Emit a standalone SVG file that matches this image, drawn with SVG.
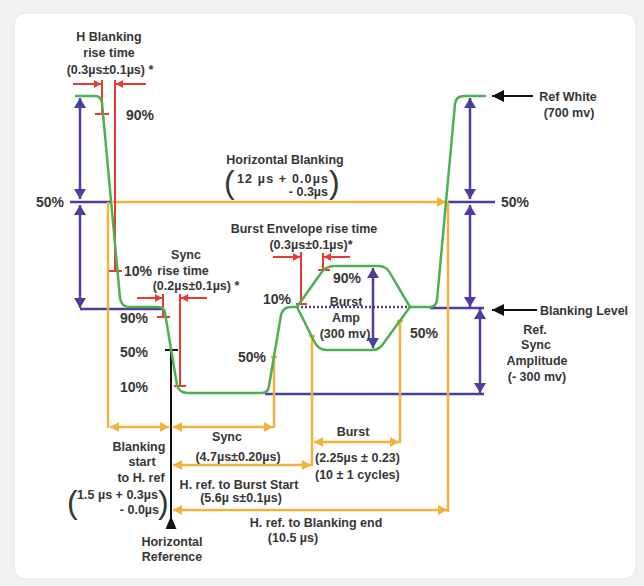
<svg xmlns="http://www.w3.org/2000/svg" width="644" height="586" viewBox="0 0 644 586">
<defs>
<style>
.t{font-family:"Liberation Sans",Arial,sans-serif;font-weight:bold;font-size:12.5px;fill:#363636;text-anchor:middle}
.p{font-size:14px}
.s{text-anchor:start}
.e{text-anchor:end}
.par{font-weight:normal;font-size:32px}
.g{fill:none;stroke:#4caf50;stroke-width:2.5;stroke-linejoin:round;stroke-linecap:round}
.pu{stroke:#4a3f9e;stroke-width:2.5;fill:none}
.o{stroke:#f2b33d;stroke-width:2.5;fill:none}
.r{stroke:#e63b2e;stroke-width:2;fill:none}
.k{stroke:#111;stroke-width:2;fill:none}
</style>
<marker id="mp" viewBox="0 0 10 12" refX="10" refY="6" markerWidth="10" markerHeight="12" orient="auto-start-reverse" markerUnits="userSpaceOnUse"><path d="M0,0 L10,6 L0,12 z" fill="#4a3f9e"/></marker>
<marker id="mo" viewBox="0 0 9 10" refX="9" refY="5" markerWidth="9" markerHeight="10" orient="auto-start-reverse" markerUnits="userSpaceOnUse"><path d="M0,0 L9,5 L0,10 z" fill="#f2b33d"/></marker>
<marker id="mr" viewBox="0 0 7 8" refX="7" refY="4" markerWidth="7" markerHeight="8" orient="auto-start-reverse" markerUnits="userSpaceOnUse"><path d="M0,0 L7,4 L0,8 z" fill="#e63b2e"/></marker>
<marker id="mk" viewBox="0 0 12 12" refX="12" refY="6" markerWidth="12" markerHeight="12" orient="auto-start-reverse" markerUnits="userSpaceOnUse"><path d="M0,0 L12,6 L0,12 z" fill="#111"/></marker>
</defs>
<rect x="0" y="0" width="644" height="586" fill="#f1f1f1"/>
<rect x="14" y="13" width="622" height="566" rx="12" fill="#ffffff" stroke="#e4e4e4"/>

<g id="connectors">
  <!-- purple measurement lines -->
  <line class="pu" x1="70" y1="202" x2="112" y2="202"/>
  <line class="pu" x1="80" y1="309" x2="162" y2="309"/>
  <line class="pu" x1="80" y1="98" x2="80" y2="199" marker-start="url(#mp)" marker-end="url(#mp)"/>
  <line class="pu" x1="80" y1="205" x2="80" y2="308" marker-start="url(#mp)" marker-end="url(#mp)"/>
  <line class="pu" x1="448" y1="202" x2="495" y2="202"/>
  <line class="pu" x1="430" y1="308" x2="484" y2="308"/>
  <line class="pu" x1="470" y1="98" x2="470" y2="199" marker-start="url(#mp)" marker-end="url(#mp)"/>
  <line class="pu" x1="470" y1="205" x2="470" y2="307" marker-start="url(#mp)" marker-end="url(#mp)"/>
  <line class="pu" x1="480" y1="309" x2="480" y2="393" marker-start="url(#mp)" marker-end="url(#mp)"/>
  <line class="pu" x1="265" y1="394" x2="484" y2="394"/>
  <line class="pu" x1="373" y1="268" x2="373" y2="348" marker-start="url(#mp)" marker-end="url(#mp)"/>
  <line class="pu" x1="297" y1="307" x2="410" y2="307" stroke-width="1.5" stroke-dasharray="2 2"/>

  <!-- orange timing lines -->
  <line class="o" x1="113" y1="202" x2="446" y2="202" marker-end="url(#mo)"/>
  <line class="o" x1="108" y1="202" x2="108" y2="428"/>
  <line class="o" x1="448" y1="202" x2="448" y2="512"/>
  <line class="o" x1="274" y1="357" x2="274" y2="428"/>
  <line class="o" x1="312" y1="336" x2="312" y2="466"/>
  <line class="o" x1="400" y1="321" x2="400" y2="443"/>
  <line class="o" x1="271" y1="357" x2="277" y2="357" stroke-width="2"/>
  <line class="o" x1="309" y1="336" x2="315" y2="336" stroke-width="2"/>
  <line class="o" x1="397" y1="321" x2="403" y2="321" stroke-width="2"/>
  <line class="o" x1="110" y1="427" x2="169" y2="427" marker-start="url(#mo)" marker-end="url(#mo)"/>
  <line class="o" x1="173" y1="427" x2="273" y2="427" marker-start="url(#mo)" marker-end="url(#mo)"/>
  <line class="o" x1="314" y1="442" x2="399" y2="442" marker-start="url(#mo)" marker-end="url(#mo)"/>
  <line class="o" x1="173" y1="465" x2="311" y2="465" marker-start="url(#mo)" marker-end="url(#mo)"/>
  <line class="o" x1="173" y1="510" x2="447" y2="510" marker-start="url(#mo)" marker-end="url(#mo)"/>

  <!-- red rise-time markers -->
  <line class="r" x1="73" y1="84" x2="101" y2="84" marker-end="url(#mr)"/>
  <line class="r" x1="146" y1="84" x2="116" y2="84" marker-end="url(#mr)"/>
  <line class="r" x1="102" y1="80" x2="102" y2="114"/>
  <line class="r" x1="95" y1="114" x2="109" y2="114"/>
  <line class="r" x1="115" y1="80" x2="115" y2="271"/>
  <line class="r" x1="109" y1="271" x2="122" y2="271"/>

  <line class="r" x1="137" y1="298" x2="162" y2="298" marker-end="url(#mr)"/>
  <line class="r" x1="207" y1="298" x2="181" y2="298" marker-end="url(#mr)"/>
  <line class="r" x1="163" y1="294" x2="163" y2="317"/>
  <line class="r" x1="157" y1="317" x2="170" y2="317"/>
  <line class="r" x1="180" y1="294" x2="180" y2="386"/>
  <line class="r" x1="174" y1="386" x2="186" y2="386"/>

  <line class="r" x1="273" y1="257" x2="300" y2="257" marker-end="url(#mr)"/>
  <line class="r" x1="350" y1="257" x2="324" y2="257" marker-end="url(#mr)"/>
  <line class="r" x1="301" y1="252" x2="301" y2="304"/>
  <line class="r" x1="296" y1="304" x2="307" y2="304"/>
  <line class="r" x1="323" y1="253" x2="323" y2="271"/>
  <line class="r" x1="318" y1="270" x2="330" y2="270"/>

  <!-- black reference arrows -->
  <line class="k" x1="533" y1="96" x2="492" y2="96" marker-end="url(#mk)"/>
  <line class="k" x1="537" y1="310" x2="492" y2="310" marker-end="url(#mk)"/>
  <line class="k" x1="171" y1="350" x2="171" y2="529"/>
  <line class="k" x1="165" y1="350" x2="178" y2="350"/>
  <polygon points="171,516 165.5,529 176.5,529" fill="#111"/>
</g>

<g id="waveform">
  <path class="g" d="M76 96 L95 96 Q101 96 102 103 L120 298 Q121 307 130 307 L158 307 Q164 307 165 313 L177 385 Q179 393 188 393 L262 393 Q268 393 269 386 L281 315 Q283 307 291 307 L297 307 L321 273 Q326 266 334 266 L379 266 Q386 266 390 273 L410 307 L430 307 Q436 307 437 300 L455 104 Q456 96 464 96 L485 96"/>
  <path class="g" d="M297 307 L314 341 Q318 350 327 350 L372 350 Q379 350 383 344 L410 307"/>
</g>

<g id="label-h-blanking-rise">
  <text class="t" x="109" y="41">H Blanking</text>
  <text class="t" x="109" y="57">rise time</text>
  <text class="t" x="110" y="74">(0.3µs±0.1µs) *</text>
  <text class="t p" x="140" y="120">90%</text>
</g>
<g id="label-horizontal-blanking">
  <text class="t" x="285" y="164">Horizontal Blanking</text>
  <text class="t par s" x="224" y="193">(</text>
  <text class="t s" x="237" y="183" textLength="91" lengthAdjust="spacing">12 µs + 0.0µs</text>
  <text class="t e" x="328" y="196">- 0.3µs</text>
  <text class="t par s" x="329" y="193">)</text>
</g>
<g id="label-50-left"><text class="t p" x="50" y="207">50%</text></g>
<g id="label-50-right"><text class="t p" x="515" y="207">50%</text></g>
<g id="label-ref-white">
  <text class="t" x="568" y="101">Ref White</text>
  <text class="t" x="569" y="117">(700 mv)</text>
</g>
<g id="label-burst-envelope">
  <text class="t" x="304" y="233">Burst Envelope rise time</text>
  <text class="t" x="311" y="249">(0.3µs±0.1µs)*</text>
</g>
<g id="label-sync-rise">
  <text class="t" x="186" y="259">Sync</text>
  <text class="t p" x="138" y="276">10%</text>
  <text class="t" x="183" y="275">rise time</text>
  <text class="t" x="196" y="290">(0.2µs±0.1µs) *</text>
</g>
<g id="label-burst-amp">
  <text class="t p" x="347" y="283">90%</text>
  <text class="t p" x="277" y="304">10%</text>
  <text class="t" x="346" y="306">Burst</text>
  <text class="t" x="346" y="322">Amp</text>
  <text class="t" x="345" y="338">(300 mv)</text>
  <text class="t p" x="424" y="338">50%</text>
  <text class="t p" x="252" y="362">50%</text>
</g>
<g id="label-sync-levels">
  <text class="t p" x="134" y="323">90%</text>
  <text class="t p" x="134" y="357">50%</text>
  <text class="t p" x="134" y="392">10%</text>
</g>
<g id="label-blanking-level"><text class="t" x="584" y="315">Blanking Level</text></g>
<g id="label-ref-sync">
  <text class="t" x="535" y="334">Ref.</text>
  <text class="t" x="536" y="349">Sync</text>
  <text class="t" x="537" y="365">Amplitude</text>
  <text class="t" x="537" y="381">(- 300 mv)</text>
</g>
<g id="label-burst">
  <text class="t" x="353" y="436">Burst</text>
  <text class="t s" x="315" y="462">(2.25µs ± 0.23)</text>
  <text class="t s" x="315" y="479">(10 ± 1 cycles)</text>
</g>
<g id="label-sync">
  <text class="t" x="227" y="441">Sync</text>
  <text class="t" x="238" y="461">(4.7µs±0.20µs)</text>
</g>
<g id="label-blanking-start">
  <text class="t" x="139" y="451">Blanking</text>
  <text class="t" x="142" y="466">start</text>
  <text class="t" x="141" y="482">to H. ref</text>
  <text class="t par s" x="67" y="513">(</text>
  <text class="t s" x="77" y="499" textLength="81" lengthAdjust="spacing">1.5 µs + 0.3µs</text>
  <text class="t e" x="159" y="514">- 0.0µs</text>
  <text class="t par s" x="158" y="513">)</text>
</g>
<g id="label-burst-start">
  <text class="t" x="239" y="489">H. ref. to Burst Start</text>
  <text class="t" x="241" y="502">(5.6µ s±0.1µs)</text>
</g>
<g id="label-blanking-end">
  <text class="t" x="316" y="527">H. ref. to Blanking end</text>
  <text class="t" x="293" y="542">(10.5 µs)</text>
</g>
<g id="label-horizontal-reference">
  <text class="t" x="172" y="546">Horizontal</text>
  <text class="t" x="172" y="561">Reference</text>
</g>
</svg>
